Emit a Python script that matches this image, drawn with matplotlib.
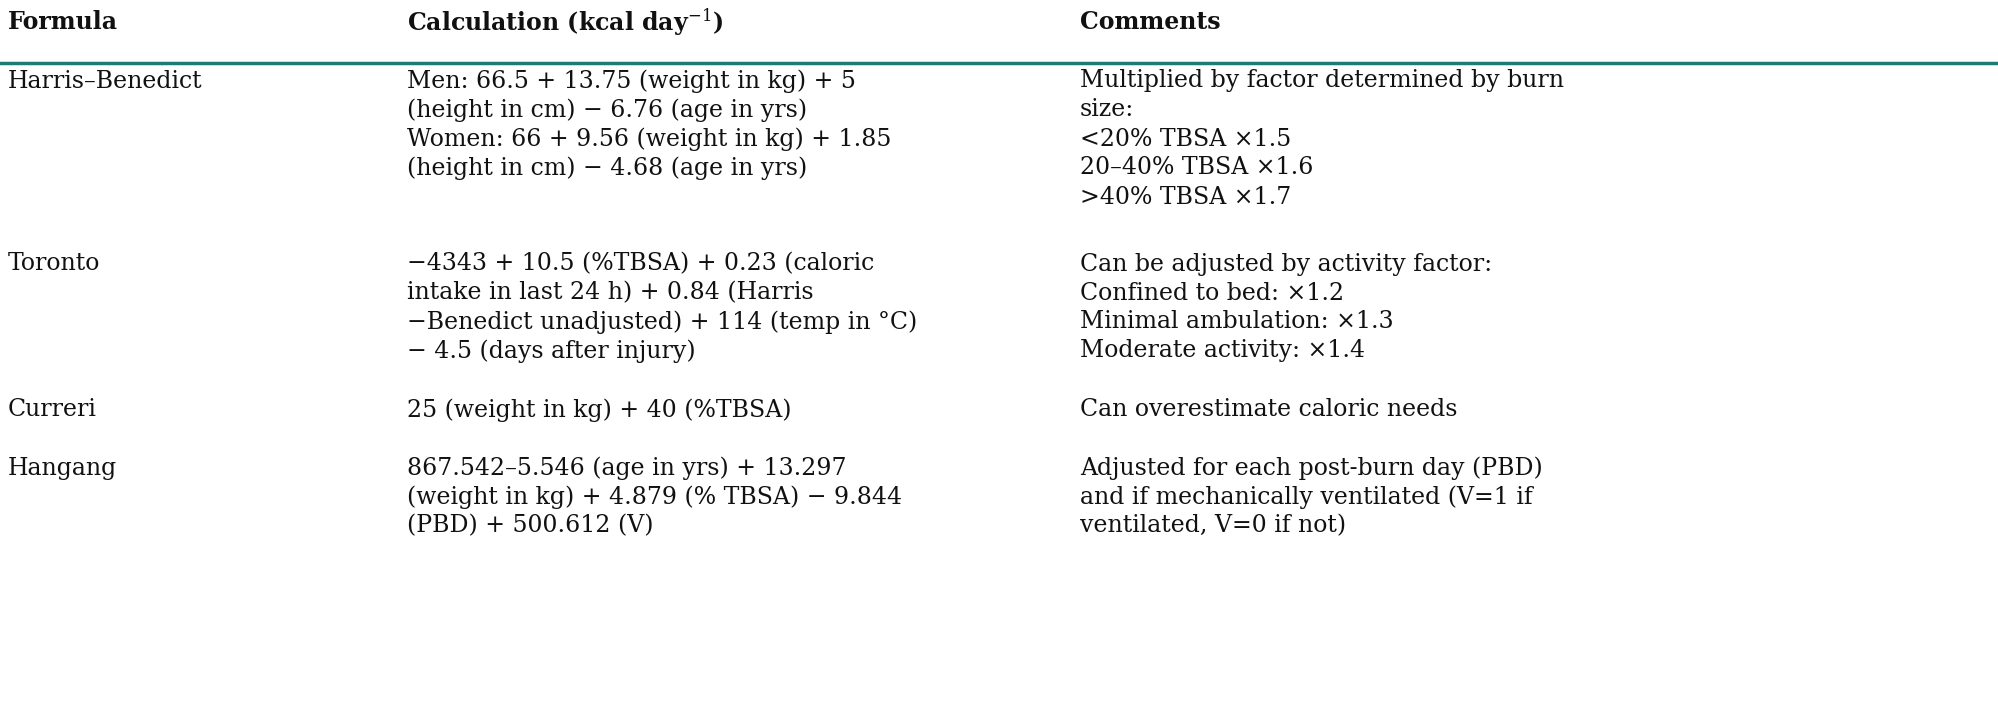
import matplotlib
matplotlib.use('Agg')
import matplotlib.pyplot as plt

plt.rcParams['font.family'] = ['DejaVu Serif']
plt.rcParams['mathtext.fontset'] = 'dejavuserif'

W, H = 1998, 712
headers = ['Formula', 'Calculation (kcal day$^{-1}$)', 'Comments']
col_x = [8, 407, 1080]

formulas = ['Harris\u2013Benedict', 'Toronto', 'Curreri', 'Hangang']
calculations = [
    ['Men: 66.5 + 13.75 (weight in kg) + 5', '(height in cm) \u2212 6.76 (age in yrs)',
     'Women: 66 + 9.56 (weight in kg) + 1.85', '(height in cm) \u2212 4.68 (age in yrs)'],
    ['\u22124343 + 10.5 (%TBSA) + 0.23 (caloric', 'intake in last 24 h) + 0.84 (Harris',
     '\u2212Benedict unadjusted) + 114 (temp in \u00b0C)', '\u2212 4.5 (days after injury)'],
    ['25 (weight in kg) + 40 (%TBSA)'],
    ['867.542\u20135.546 (age in yrs) + 13.297', '(weight in kg) + 4.879 (% TBSA) \u2212 9.844',
     '(PBD) + 500.612 (V)'],
]
comments = [
    ['Multiplied by factor determined by burn', 'size:', '<20% TBSA \u00d71.5',
     '20\u201340% TBSA \u00d71.6', '>40% TBSA \u00d71.7'],
    ['Can be adjusted by activity factor:', 'Confined to bed: \u00d71.2',
     'Minimal ambulation: \u00d71.3', 'Moderate activity: \u00d71.4'],
    ['Can overestimate caloric needs'],
    ['Adjusted for each post-burn day (PBD)', 'and if mechanically ventilated (V=1 if',
     'ventilated, V=0 if not)'],
]
row_top = [81, 264, 410, 468]
line_h = 29

fig = plt.figure(figsize=(W / 100, H / 100), dpi=100)
ax = fig.add_axes([0, 0, 1, 1])
ax.set_xlim(0, W)
ax.set_ylim(H, 0)
ax.axis('off')

fs = 17
for x, h in zip(col_x, headers):
    ax.text(x, 22, h, fontsize=fs, fontweight='bold', va='center', ha='left', color='#111')
ax.plot([0, W], [63, 63], color='#1f7a73', lw=2.5)

for i, y0 in enumerate(row_top):
    ax.text(col_x[0], y0, formulas[i], fontsize=fs, va='center', color='#111')
    for j, s in enumerate(calculations[i]):
        ax.text(col_x[1], y0 + j * line_h, s, fontsize=fs, va='center', color='#111')
    for j, s in enumerate(comments[i]):
        ax.text(col_x[2], y0 + j * line_h, s, fontsize=fs, va='center', color='#111')

fig.savefig('out.png', dpi=100)
